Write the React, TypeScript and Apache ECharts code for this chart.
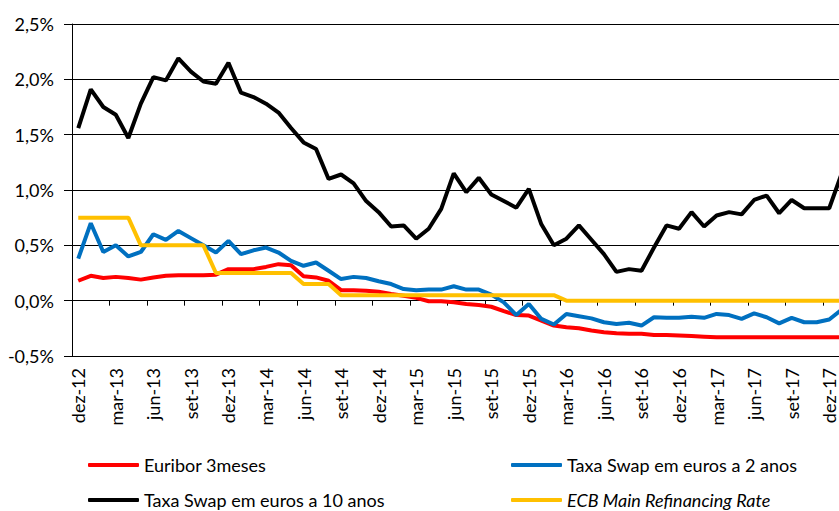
import React, { useEffect, useRef } from 'react';
import * as echarts from 'echarts';

const months = [
  'dez-12',
  'jan-13', 'fev-13', 'mar-13', 'abr-13', 'mai-13', 'jun-13', 'jul-13', 'ago-13', 'set-13', 'out-13', 'nov-13', 'dez-13',
  'jan-14', 'fev-14', 'mar-14', 'abr-14', 'mai-14', 'jun-14', 'jul-14', 'ago-14', 'set-14', 'out-14', 'nov-14', 'dez-14',
  'jan-15', 'fev-15', 'mar-15', 'abr-15', 'mai-15', 'jun-15', 'jul-15', 'ago-15', 'set-15', 'out-15', 'nov-15', 'dez-15',
  'jan-16', 'fev-16', 'mar-16', 'abr-16', 'mai-16', 'jun-16', 'jul-16', 'ago-16', 'set-16', 'out-16', 'nov-16', 'dez-16',
  'jan-17', 'fev-17', 'mar-17', 'abr-17', 'mai-17', 'jun-17', 'jul-17', 'ago-17', 'set-17', 'out-17', 'nov-17', 'dez-17',
  'jan-18',
];

const euribor3m = [
  0.18, 0.225, 0.205, 0.215, 0.205, 0.19, 0.21, 0.225, 0.23, 0.23, 0.23, 0.235, 0.285,
  0.285, 0.285, 0.305, 0.33, 0.32, 0.22, 0.21, 0.18, 0.095, 0.095, 0.09, 0.08,
  0.06, 0.045, 0.025, -0.005, -0.005, -0.015, -0.03, -0.04, -0.055, -0.095, -0.13, -0.135,
  -0.18, -0.225, -0.24, -0.25, -0.27, -0.285, -0.295, -0.3, -0.3, -0.31, -0.31, -0.315,
  -0.32, -0.325, -0.33, -0.33, -0.33, -0.33, -0.33, -0.33, -0.33, -0.33, -0.33, -0.33,
  -0.33,
];

const swap2y = [
  0.38, 0.7, 0.44, 0.5, 0.4, 0.44, 0.6, 0.55, 0.63, 0.565, 0.5, 0.435, 0.54,
  0.42, 0.455, 0.48, 0.435, 0.36, 0.315, 0.345, 0.27, 0.195, 0.215, 0.205, 0.175,
  0.15, 0.105, 0.095, 0.1, 0.1, 0.13, 0.1, 0.1, 0.055, -0.015, -0.13, -0.03,
  -0.165, -0.215, -0.12, -0.14, -0.16, -0.195, -0.21, -0.2, -0.225, -0.15, -0.155, -0.155,
  -0.145, -0.155, -0.12, -0.13, -0.165, -0.115, -0.15, -0.205, -0.155, -0.195, -0.195, -0.17,
  -0.08,
];

const swap10y = [
  1.56, 1.91, 1.75, 1.68, 1.47, 1.78, 2.02, 1.99, 2.19, 2.07, 1.98, 1.96, 2.15,
  1.88, 1.84, 1.78, 1.7, 1.56, 1.43, 1.37, 1.1, 1.14, 1.06, 0.9, 0.8,
  0.67, 0.68, 0.56, 0.65, 0.83, 1.15, 0.98, 1.11, 0.96, 0.9, 0.84, 1.01,
  0.69, 0.5, 0.56, 0.68, 0.55, 0.42, 0.26, 0.285, 0.27, 0.48, 0.68, 0.65,
  0.8, 0.67, 0.77, 0.8, 0.78, 0.91, 0.95, 0.79, 0.91, 0.835, 0.835, 0.835,
  1.15,
];

const ecbRate = [
  0.75, 0.75, 0.75, 0.75, 0.75, 0.5, 0.5, 0.5, 0.5, 0.5, 0.5, 0.25, 0.25,
  0.25, 0.25, 0.25, 0.25, 0.25, 0.15, 0.15, 0.15, 0.05, 0.05, 0.05, 0.05,
  0.05, 0.05, 0.05, 0.05, 0.05, 0.05, 0.05, 0.05, 0.05, 0.05, 0.05, 0.05,
  0.05, 0.05, 0, 0, 0, 0, 0, 0, 0, 0, 0, 0,
  0, 0, 0, 0, 0, 0, 0, 0, 0, 0, 0, 0,
  0,
];

const seriesNames = [
  'Euribor 3meses',
  'Taxa Swap em euros a 2 anos',
  'Taxa Swap em euros a 10 anos',
  'ECB Main Refinancing Rate',
];
const seriesColors = ['#FF0000', '#0070C0', '#000000', '#FFC000'];

export default function App() {
  const ref = useRef<HTMLDivElement>(null);
  useEffect(() => {
    const chart = echarts.init(ref.current!, null, { renderer: 'svg' });
    const font = 'Lato';
    const fs = 18;
    const fmt = (v: number) => v.toFixed(1).replace('.', ',') + '%';
    const legendPos = [
      { left: 88, top: 456 },
      { left: 511, top: 456 },
      { left: 88, top: 491 },
      { left: 511, top: 491 },
    ];
    const data = [euribor3m, swap2y, swap10y, ecbRate];
    chart.setOption({
      animation: false,
      backgroundColor: '#ffffff',
      textStyle: { fontFamily: font },
      grid: {
        left: 72,
        top: 24,
        width: 776,
        bottom: 155,
        containLabel: false,
        outerBoundsMode: 'none',
      },
      xAxis: [
        {
          type: 'category',
          data: months,
          boundaryGap: true,
          axisLine: { show: true, onZero: true, lineStyle: { color: '#000', width: 1 } },
          axisTick: { show: true, interval: 2, length: 5, lineStyle: { color: '#000', width: 1 } },
          axisLabel: { show: false },
          splitLine: { show: false },
        },
        {
          type: 'category',
          data: months,
          position: 'bottom',
          boundaryGap: true,
          axisLine: { show: false, onZero: false },
          axisTick: { show: false },
          axisLabel: {
            show: true,
            interval: 2,
            rotate: 90,
            margin: 12,
            color: '#000',
            fontFamily: font,
            fontSize: fs,
          },
          splitLine: { show: false },
        },
      ],
      yAxis: {
        type: 'value',
        min: -0.5,
        max: 2.5,
        interval: 0.5,
        axisLine: { show: true, lineStyle: { color: '#000', width: 1 } },
        axisTick: { show: true, length: 8, lineStyle: { color: '#000', width: 1 } },
        axisLabel: {
          formatter: fmt,
          margin: 18,
          color: '#000',
          fontFamily: font,
          fontSize: fs,
        },
        splitLine: { show: true, lineStyle: { color: '#000', width: 1 } },
      },
      legend: seriesNames.map((name, i) => ({
        ...legendPos[i],
        orient: 'horizontal',
        selectedMode: false,
        icon: 'roundRect',
        itemWidth: 51,
        itemHeight: 4,
        padding: 0,
        data: [
          {
            name,
            textStyle: {
              fontStyle: i === 3 ? 'italic' : 'normal',
            },
          },
        ],
        textStyle: { color: '#000', fontFamily: font, fontSize: fs },
      })),
      series: seriesNames.map((name, i) => ({
        name,
        type: 'line',
        xAxisIndex: 0,
        data: data[i],
        symbol: 'none',
        color: seriesColors[i],
        lineStyle: { color: seriesColors[i], width: 4 },
        z: 2 + i,
      })),
    });
    return () => chart.dispose();
  }, []);
  return (
    <div
      ref={ref}
      style={{ position: 'fixed', left: 0, top: 0, width: 839, height: 511, background: '#fff' }}
    />
  );
}
